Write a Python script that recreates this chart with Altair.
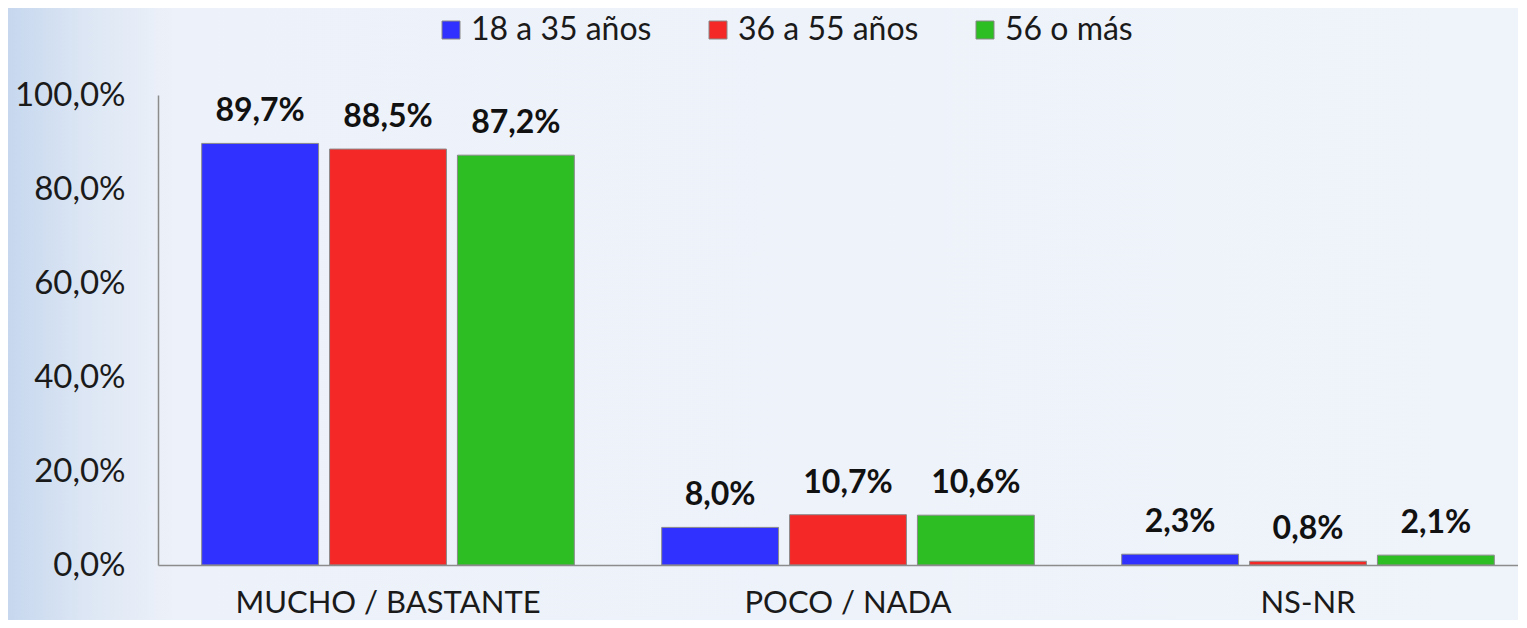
import altair as alt
import pandas as pd

categories = ["MUCHO / BASTANTE", "POCO /  NADA", "NS-NR"]
series = ["18 a 35 años", "36 a 55 años", "56 o más"]
values_18_35 = [89.7, 8.0, 2.3]
values_36_55 = [88.5, 10.7, 0.8]
values_56 = [87.2, 10.6, 2.1]
colors = ["#3030FF", "#F52828", "#2DBE23"]
y_ticks = [0, 20, 40, 60, 80, 100]

rows = []
for s, vals in zip(series, [values_18_35, values_36_55, values_56]):
    for c, v in zip(categories, vals):
        rows.append({"cat": c, "serie": s, "val": v,
                     "label": f"{v:.1f}".replace(".", ",") + "%"})
df = pd.DataFrame(rows)

FONT = "Lato"

x = alt.X("cat:N", sort=categories, title=None,
          scale=alt.Scale(range=[0, 1380], paddingInner=0.19, paddingOuter=0.095),
          axis=alt.Axis(labelAngle=0, labelFont=FONT, labelFontSize=31, labelColor="#1a1a1a",
                        ticks=False, labelPadding=23, labelLimit=0, domainColor="#8c8c8c",
                        domainWidth=1.5, zindex=1))
xo = alt.XOffset("serie:N", sort=series,
                 scale=alt.Scale(paddingInner=0.086, paddingOuter=0))
y = alt.Y("val:Q", title=None,
          scale=alt.Scale(domain=[0, 100]),
          axis=alt.Axis(values=y_ticks, grid=False, ticks=False, labelPadding=33,
                        labelFont=FONT, labelFontSize=33, labelColor="#1a1a1a",
                        labelExpr="replace(format(datum.value, '.1f'), '.', ',') + '%'",
                        domainColor="#8c8c8c", domainWidth=1.5, zindex=1))
color = alt.Color("serie:N", sort=series,
                  scale=alt.Scale(domain=series, range=colors),
                  legend=alt.Legend(title=None, orient="none", legendX=277, legendY=-81,
                                    direction="horizontal", columns=3,
                                    symbolType="square", symbolSize=324,
                                    symbolStrokeColor="#888888", symbolStrokeWidth=1,
                                    labelFont=FONT, labelFontSize=32, labelColor="#1a1a1a",
                                    labelLimit=0, labelOffset=4, columnPadding=50))

bg = alt.Chart(alt.Data(values=[{"a": 1}])).mark_rect(
    fill=alt.LinearGradient(gradient="linear", x1=0, x2=1, y1=0, y2=0, stops=[
        alt.GradientStop(offset=0, color="#C6D7EE"),
        alt.GradientStop(offset=0.05, color="#DCE6F4"),
        alt.GradientStop(offset=0.11, color="#EDF1F9"),
        alt.GradientStop(offset=1, color="#EFF3FA"),
    ])
).encode(x=alt.value(-150), x2=alt.value(1369), y=alt.value(-87), y2=alt.value(530))

base = alt.Chart(df)
bars = base.mark_bar(stroke="#8a8a8a", strokeWidth=1).encode(x=x, xOffset=xo, y=y, color=color)
texts = base.mark_text(font=FONT, fontSize=32, fontWeight="bold", color="#111111",
                       baseline="alphabetic", dy=-22).encode(
    x=x, xOffset=xo, y=y, text="label:N")

chart = alt.layer(bg, bars, texts).properties(
    width=1360, height=470,
    autosize=alt.AutoSizeParams(type="none"),
    padding={"left": 150, "top": 87, "right": 0, "bottom": 55},
    background="#EEF2F9",
).configure_view(stroke=None)

chart.save("out.html", embed_options={"renderer": "svg", "actions": False})
